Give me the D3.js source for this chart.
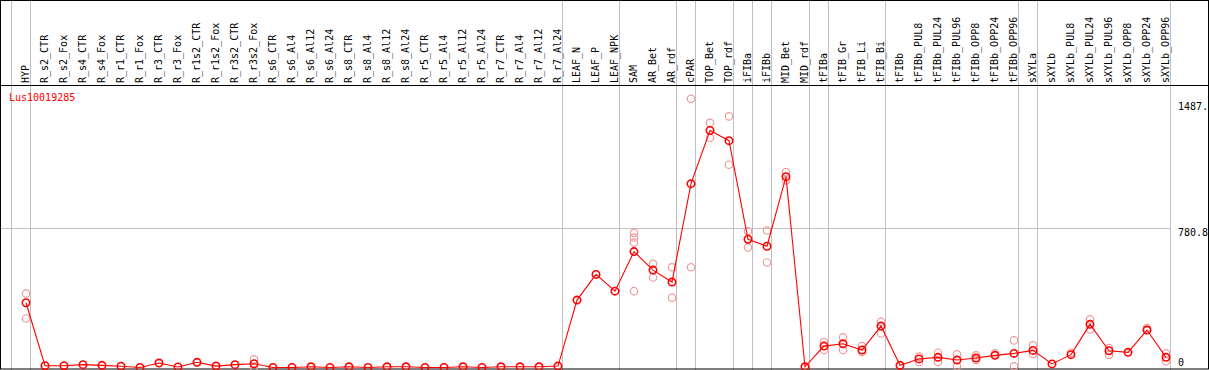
<!DOCTYPE html>
<html>
<head>
<meta charset="utf-8">
<script src="https://cdn.jsdelivr.net/npm/d3@7"></script>
<style>
	body { margin: 0; background: #fff; }
	svg text { font-family: "DejaVu Sans Mono", monospace; font-size: 10px; }
</style>
</head>
<body>
<div class="chart"></div>
<script>
// sample names, left to right
var categories = ["HYP", "R_s2_CTR", "R_s2_Fox", "R_s4_CTR", "R_s4_Fox", "R_r1_CTR", "R_r1_Fox",
	"R_r3_CTR", "R_r3_Fox", "R_r1s2_CTR", "R_r1s2_Fox", "R_r3s2_CTR", "R_r3s2_Fox",
	"R_s6_CTR", "R_s6_Al4", "R_s6_Al12", "R_s6_Al24", "R_s8_CTR", "R_s8_Al4", "R_s8_Al12", "R_s8_Al24",
	"R_r5_CTR", "R_r5_Al4", "R_r5_Al12", "R_r5_Al24", "R_r7_CTR", "R_r7_Al4", "R_r7_Al12", "R_r7_Al24",
	"LEAF_N", "LEAF_P", "LEAF_NPK", "SAM", "AR_Bet", "AR_rdf", "cPAR", "TOP_Bet", "TOP_rdf",
	"iFIBa", "iFIBb", "MID_Bet", "MID_rdf", "tFIBa", "tFIB_Gr", "tFIB_Li", "tFIB_Bi",
	"tFIBb", "tFIBb_PUL8", "tFIBb_PUL24", "tFIBb_PUL96", "tFIBb_OPP8", "tFIBb_OPP24", "tFIBb_OPP96",
	"sXYLa", "sXYLb", "sXYLb_PUL8", "sXYLb_PUL24", "sXYLb_PUL96", "sXYLb_OPP8", "sXYLb_OPP24", "sXYLb_OPP96"];

// mean expression per sample
var meanValues = [363, 10, 10, 16, 12, 7, 0, 25, 3, 29, 8, 16, 21,
	0, 0, 4, 0, 4, 0, 4, 4, 0, 0, 4, 0, 4, 4, 4, 8,
	378, 522, 428, 650, 546, 479, 1031, 1329, 1272,
	719, 680, 1070, 4, 120, 133, 98, 232,
	12, 48, 57, 42, 53, 68, 79,
	96, 20, 72, 242, 94, 85, 210, 57];

// replicate values (only those that show apart from the mean)
var replicates = [[415, 275], [], [], [], [], [], [], [], [], [], [], [], [46, 1],
	[], [], [], [], [], [], [], [], [], [], [], [], [], [], [], [],
	[], [], [], [755, 729, 701, 428], [581, 505], [562, 391], [1507, 562], [1372, 1288], [1408, 1137],
	[764, 673], [768, 589], [1096, 1049], [], [143, 98], [169, 98], [120, 87], [256, 191],
	[], [61, 31], [83, 31], [74, 7], [68, 42], [79], [152, 7],
	[124, 76], [], [83], [270, 214], [109, 70], [], [221], [79, 35]];

// last sample index of each group (a grey rule follows it)
var groupEnds = [-1, 0, 28, 31, 34, 35, 37, 38, 39, 41, 42, 45, 52, 53, 60];

var yTicks = [0, 780.8, 1487];
var yTickLabels = ["0", "780.8", "1487."];
var yMax = 1561.6;
var geneName = "Lus10019285";

(function() {
	var width = 1209,
		height = 370,
		headH = 85;

	var svg = d3.select(".chart").append("svg")
		.attr("width", width)
		.attr("height", height);

	var x = d3.scaleLinear().domain([0, categories.length - 1]).range([26, 1166]);
	var y = d3.scaleLinear().domain([0, yMax]).range([367.5, 89]);

	// group separators
	svg.selectAll("line.sep")
		.data(groupEnds)
		.enter().append("line")
		.attr("class", "sep")
		.attr("x1", function(d) { return Math.round(x(d) + 4) + 0.5; })
		.attr("x2", function(d) { return Math.round(x(d) + 4) + 0.5; })
		.attr("y1", 0).attr("y2", height)
		.style("stroke", "#c0c0c0");

	// middle gridline
	svg.append("line")
		.attr("x1", 0).attr("x2", Math.round(x(60) + 4))
		.attr("y1", Math.round(y(yTicks[1])) + 0.5)
		.attr("y2", Math.round(y(yTicks[1])) + 0.5)
		.style("stroke", "#c0c0c0");

	// frame
	svg.append("rect")
		.attr("x", 0.5).attr("y", 0.5)
		.attr("width", width - 1).attr("height", height - 1.5)
		.style("fill", "none").style("stroke", "#000");
	svg.append("line")
		.attr("x1", 0).attr("x2", width)
		.attr("y1", headH + 0.5).attr("y2", headH + 0.5)
		.style("stroke", "#000");

	// rotated sample labels
	svg.selectAll("text.cat")
		.data(categories)
		.enter().append("text")
		.attr("class", "cat")
		.attr("transform", function(d, i) {
			return "translate(" + (x(i) + 3) + "," + (headH - 2) + ") rotate(-90)";
		})
		.text(function(d) { return d; });

	// y tick labels
	svg.selectAll("text.ytick")
		.data(yTicks)
		.enter().append("text")
		.attr("class", "ytick")
		.attr("x", 1178)
		.attr("y", function(d, i) { return i == 0 ? y(d) - 2 : y(d) + 8; })
		.text(function(d, i) { return yTickLabels[i]; });

	svg.append("text")
		.attr("x", 9).attr("y", 101)
		.style("fill", "#ff0000")
		.text(geneName);

	// replicates
	var reps = [];
	replicates.forEach(function(r, i) {
		r.forEach(function(v) { reps.push([i, v]); });
	});
	svg.selectAll("circle.rep")
		.data(reps)
		.enter().append("circle")
		.attr("class", "rep")
		.attr("cx", function(d) { return x(d[0]); })
		.attr("cy", function(d) { return y(d[1]); })
		.attr("r", 3.7)
		.style("fill", "none")
		.style("stroke", "#f09a9a")
		.style("stroke-width", 1.2);

	// mean line and points
	var line = d3.line()
		.x(function(d, i) { return x(i); })
		.y(function(d) { return y(d); });
	svg.append("path")
		.datum(meanValues)
		.attr("d", line)
		.style("fill", "none")
		.style("stroke", "#ff0000")
		.style("stroke-width", 1.1);

	svg.selectAll("circle.mean")
		.data(meanValues)
		.enter().append("circle")
		.attr("class", "mean")
		.attr("cx", function(d, i) { return x(i); })
		.attr("cy", function(d) { return y(d); })
		.attr("r", 3.7)
		.style("fill", "none")
		.style("stroke", "#ff0000")
		.style("stroke-width", 1.6);
})();
</script>
</body>
</html>
